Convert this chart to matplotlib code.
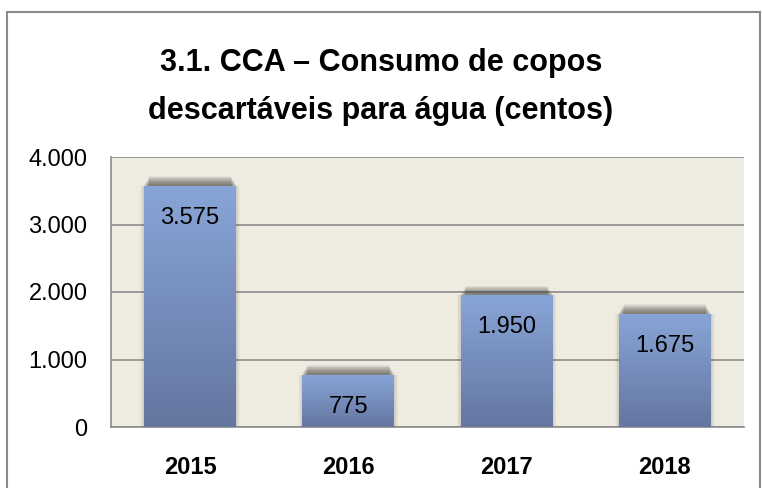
import numpy as np
import matplotlib
matplotlib.use("Agg")
import matplotlib.pyplot as plt
from matplotlib.patches import Rectangle
from matplotlib.colors import LinearSegmentedColormap

years = ["2015", "2016", "2017", "2018"]
values = [3575, 775, 1950, 1675]
yticks = [0, 1000, 2000, 3000, 4000]

plt.rcParams['font.family'] = ['Liberation Sans', 'DejaVu Sans']

def fmt(v):
    return f"{v:,}".replace(",", ".")

fig = plt.figure(figsize=(7.62, 4.88), dpi=100)
fig.patch.set_facecolor("white")

# outer chart border (bottom edge falls outside the image)
fig.add_artist(Rectangle((7 / 762, -0.05), 753 / 762, 1.05 - 12 / 488,
                         transform=fig.transFigure, fill=False,
                         edgecolor="#8a8a8a", lw=1.5))

fig.text(0.5, 1 - 63 / 488, "3.1. CCA – Consumo de copos", ha="center", va="center",
         fontsize=22, fontweight="bold")
fig.text(0.5, 1 - 111 / 488, "descartáveis para água (centos)", ha="center", va="center",
         fontsize=22, fontweight="bold")

ax = fig.add_axes([111 / 762, 1 - 427 / 488, 633 / 762, 270 / 488])
ax.set_facecolor("#eeebe0")
ax.set_yticks(yticks)
ax.set_yticklabels([fmt(t) for t in yticks])
ax.set_xticks(range(len(years)))
ax.set_xticklabels(years, fontweight="bold")
ax.tick_params(axis="y", length=0, pad=17, labelsize=17)
ax.tick_params(axis="x", length=0, pad=21, labelsize=17)
ax.yaxis.grid(True, color="#8c8c8c", lw=1.2)
ax.set_axisbelow(True)
for s in ["top", "right"]:
    ax.spines[s].set_visible(False)
ax.spines["left"].set_color("#8c8c8c")
ax.spines["bottom"].set_color("#8c8c8c")
ax.spines["left"].set_linewidth(1.2)
ax.spines["bottom"].set_linewidth(1.2)

width = 0.58
cmap = LinearSegmentedColormap.from_list("bar", ["#6476a0", "#88a5d7"])
grad = np.linspace(0, 1, 256).reshape(-1, 1)

# soft blurred shadow above and beside bars
for i, v in enumerate(values):
    for k in range(12):
        ax.bar(i, v + 20 + k * 11, width=width - 0.006 * k, color="#303030",
               alpha=0.065, lw=0, zorder=2)
    for k in range(5):
        ax.bar(i, v, width=width + 0.01 * (k + 1), color="#303030",
               alpha=0.03, lw=0, zorder=2)

bars = ax.bar(range(len(years)), values, width=width, color="#7a93c2", lw=0, zorder=3)
for b in bars:
    x0, y0 = b.get_x(), b.get_y()
    im = ax.imshow(grad, cmap=cmap, origin="lower", aspect="auto",
                   extent=[x0, x0 + b.get_width(), y0, y0 + b.get_height()],
                   zorder=4)
    im.set_clip_path(b)

ax.set_xlim(-0.5, len(years) - 0.5)
ax.set_ylim(0, 4000)

for i, v in enumerate(values):
    ax.annotate(fmt(v), (i, v), xytext=(0, -23), textcoords="offset points",
                ha="center", va="center", fontsize=17, zorder=5)

fig.savefig("out.png", dpi=100)
